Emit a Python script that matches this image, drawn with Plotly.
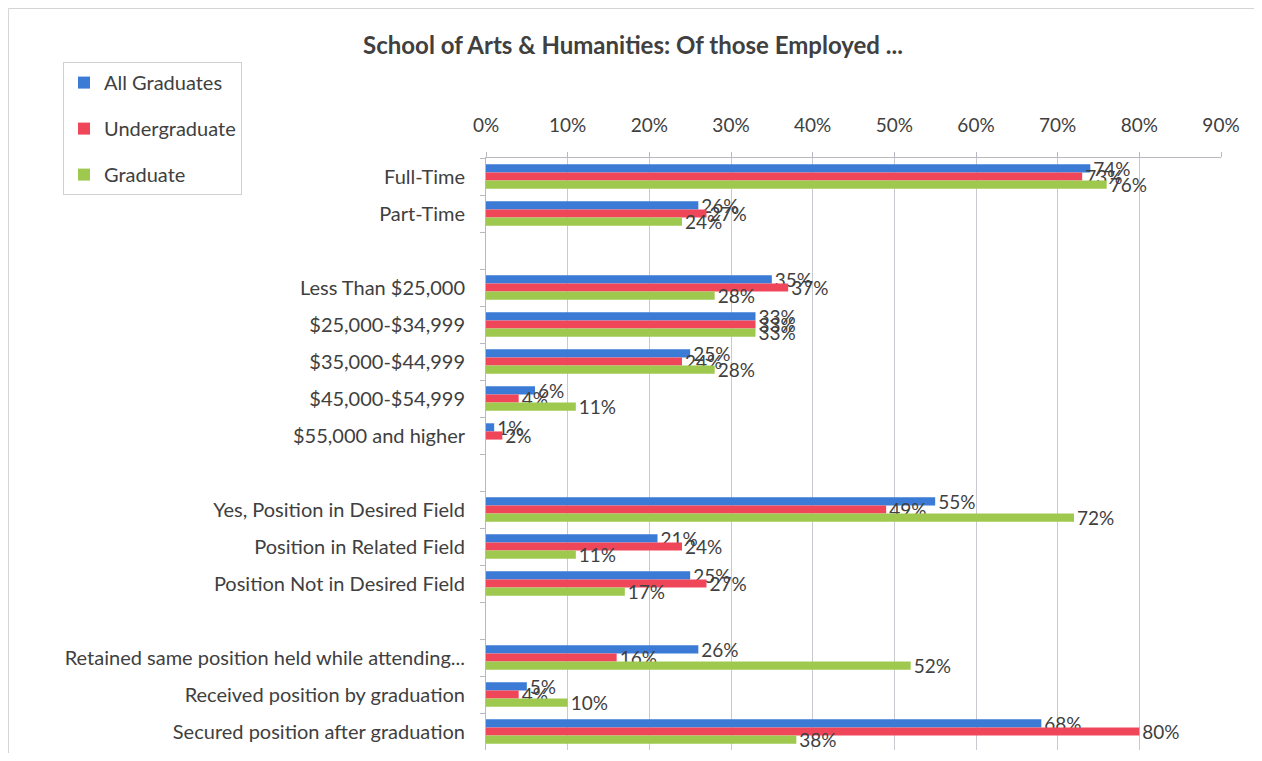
import plotly.graph_objects as go

categories = [
    "Full-Time", "Part-Time", " ",
    "Less Than $25,000", "$25,000-$34,999", "$35,000-$44,999", "$45,000-$54,999", "$55,000 and higher", "  ",
    "Yes, Position in Desired Field", "Position in Related Field", "Position Not in Desired Field", "   ",
    "Retained same position held while attending...", "Received position by graduation", "Secured position after graduation",
]
all_grads = [74, 26, None, 35, 33, 25, 6, 1, None, 55, 21, 25, None, 26, 5, 68]
undergrad = [73, 27, None, 37, 33, 24, 4, 2, None, 49, 24, 27, None, 16, 4, 80]
graduate = [76, 24, None, 28, 33, 28, 11, None, None, 72, 11, 17, None, 52, 10, 38]

series = [
    ("All Graduates", all_grads, "#3b7bd6"),
    ("Undergraduate", undergrad, "#f0465a"),
    ("Graduate", graduate, "#9fc94e"),
]

FONT = "Lato, 'Open Sans', sans-serif"
GREY = "#404040"

fig = go.Figure()
for i, (name, vals, color) in enumerate(series):
    xs = [None if v is None else v / 100 for v in vals]
    txt = ["" if v is None else f"{v}%" for v in vals]
    fig.add_trace(go.Bar(
        name=name, y=categories, x=xs, orientation="h",
        marker=dict(color=color, line=dict(width=0)),
        text=txt, textposition="outside", constraintext="none",
        textfont=dict(size=19, color=GREY, family=FONT),
        cliponaxis=False, legendgroup=f"g{i}",
    ))

fig.update_layout(
    width=1254, height=745,
    paper_bgcolor="white", plot_bgcolor="white",
    barmode="group", bargap=0.34, bargroupgap=0,
    margin=dict(l=478, r=41, t=150, b=3, autoexpand=False),
    font=dict(family=FONT, color=GREY, size=19),
    title=dict(text="<b>School of Arts & Humanities: Of those Employed ...</b>",
               x=625 / 1254, xref="container", xanchor="center",
               y=0.950, yref="container", yanchor="middle",
               font=dict(size=24, color="#404040", family=FONT)),
    showlegend=True,
    legend=dict(x=-0.5755, y=1.162, xanchor="left", yanchor="top",
                bordercolor="#d0d0d0", borderwidth=1, bgcolor="white",
                font=dict(size=20, color=GREY, family=FONT),
                tracegroupgap=17, itemwidth=30),
    xaxis=dict(side="top", range=[0, 0.9], dtick=0.1, tickformat=".0%",
               showgrid=True, gridcolor="#c9cad0", gridwidth=1,
               showline=True, linecolor="#b8b8c0", linewidth=1,
               ticks="outside", ticklen=5, tickcolor="#b8b8c0",
               ticklabelstandoff=12, zeroline=False,
               tickfont=dict(size=19, color=GREY, family=FONT)),
    yaxis=dict(categoryorder="array", categoryarray=categories, autorange="reversed",
               showline=True, linecolor="#b8b8c0", linewidth=1,
               ticks="outside", ticklen=5, tickcolor="#b8b8c0", tickson="boundaries",
               showgrid=False, ticklabelstandoff=16,
               tickfont=dict(size=20, color=GREY, family=FONT)),
)

fig.add_shape(type="rect", xref="paper", yref="paper",
              x0=-0.6497, x1=1.049, y0=-0.05, y1=1.2525,
              line=dict(color="#d4d4d4", width=1))

fig.write_html("out.html")
